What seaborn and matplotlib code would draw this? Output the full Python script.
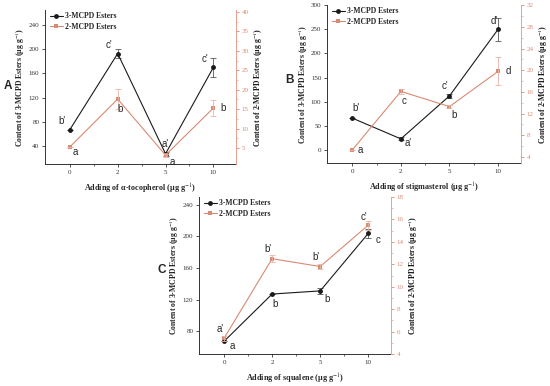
import numpy as np
import pandas as pd
import matplotlib.pyplot as plt
import seaborn as sns

# Data
doses = ["0", "2", "5", "10"]

a_3mcpd = [67, 193, 27, 170]
a_3mcpd_err = [0, 8, 3, 16]
a_2mcpd = [5.3, 17.6, 3.2, 15.3]
a_2mcpd_err = [0, 2.6, 0.4, 2.0]
a_lab3 = ["b'", "c'", "a'", "c'"]
a_lab2 = ["a", "b", "a", "b"]

b_3mcpd = [66, 23, 112, 250]
b_3mcpd_err = [0, 3, 4, 24]
b_2mcpd = [5.3, 16.1, 13.3, 19.8]
b_2mcpd_err = [0, 0.5, 0.3, 2.6]
b_lab3 = ["b'", "a'", "c'", "d'"]
b_lab2 = ["a", "c", "b", "d"]

c_3mcpd = [67, 127, 131, 204]
c_3mcpd_err = [0, 0, 4, 6]
c_2mcpd = [5.4, 12.5, 11.8, 15.5]
c_2mcpd_err = [0.2, 0.3, 0.2, 0.4]
c_lab3 = ["a", "b", "b", "c"]
c_lab2 = ["a'", "b'", "b'", "c'"]

BLACK = "#1a1a1a"
SALMON = "#d98a72"
SPINE2 = "#e9a292"

sns.set_theme(style="ticks")
plt.rcParams['font.family'] = ['Liberation Serif', 'DejaVu Serif']
plt.rcParams['mathtext.fontset'] = 'stix'


def panel(fig, rect, y3, e3, y2, e2, lab3, lab2, ylim3, yt3, ylim2, yt2,
          xlabel, letter, letter_pos, off3, off2):
    ax = fig.add_axes(rect)
    ax2 = ax.twinx()
    df = pd.DataFrame({"x": np.arange(len(doses)), "y3": y3, "y2": y2})

    sns.lineplot(data=df, x="x", y="y3", ax=ax, color=BLACK, lw=0.8,
                 marker="o", markersize=3.5, markeredgewidth=0,
                 label="3-MCPD Esters", legend=False, zorder=3)
    ax.errorbar(df["x"], df["y3"], yerr=e3, fmt="none", ecolor="#555555",
                elinewidth=0.6, capsize=2, capthick=0.6)
    sns.lineplot(data=df, x="x", y="y2", ax=ax2, color=SALMON, lw=0.8,
                 marker="s", markersize=3, markeredgewidth=0,
                 label="2-MCPD Esters", legend=False)
    ax2.errorbar(df["x"], df["y2"], yerr=e2, fmt="none", ecolor="#e8b3a5",
                 elinewidth=0.6, capsize=2, capthick=0.6)

    ax.set_xlim(-0.52, 3.47)
    ax.set_xticks(df["x"])
    ax.set_xticklabels(doses)
    ax.set_xticks(df["x"][:-1] + 0.5, minor=True)
    ax.set_ylim(*ylim3)
    ax.set_yticks(yt3)
    ax2.set_ylim(*ylim2)
    ax2.set_yticks(yt2)
    ax2.set_yticks(np.array(yt2[:-1]) + (yt2[1] - yt2[0]) / 2, minor=True)

    for a in (ax, ax2):
        a.spines["top"].set_visible(False)
    ax.spines["right"].set_visible(False)
    ax2.spines["left"].set_visible(False)
    ax2.spines["bottom"].set_visible(False)
    for s in ("left", "bottom"):
        ax.spines[s].set_linewidth(0.7)
        ax.spines[s].set_color("#333333")
    ax2.spines["right"].set_color(SPINE2)
    ax2.spines["right"].set_linewidth(0.7)

    ax.tick_params(axis="both", labelsize=5, length=2.5, width=0.6,
                   pad=1.5, colors="#333333")
    ax.tick_params(axis="x", which="minor", length=1.5, width=0.5)
    ax2.tick_params(axis="y", labelsize=5, length=2.5, width=0.6, pad=1.5,
                    colors=SALMON)
    ax2.tick_params(axis="y", which="minor", length=1.5, width=0.5,
                    colors=SPINE2)

    ax.set_xlabel(xlabel, fontsize=5.9, fontweight="bold", labelpad=5)
    ax.set_ylabel("Content of 3-MCPD Esters (μg g$^{-1}$)", fontsize=5.6,
                  fontweight="bold", labelpad=1)
    ax2.set_ylabel("Content of 2-MCPD Esters (μg g$^{-1}$)", fontsize=5.6,
                   fontweight="bold", labelpad=2, color=BLACK)

    for i in range(len(doses)):
        ax.annotate(lab3[i], (i, y3[i]), xytext=off3[i], textcoords="offset points",
                    fontsize=7, family="Liberation Sans", ha="center", va="center")
        ax2.annotate(lab2[i], (i, y2[i]), xytext=off2[i], textcoords="offset points",
                     fontsize=7, family="Liberation Sans", ha="center", va="center")

    h1, l1 = ax.get_legend_handles_labels()
    h2, l2 = ax2.get_legend_handles_labels()
    ax2.legend(h1 + h2, l1 + l2, loc="upper left", frameon=False,
               prop={"size": 5.5, "weight": "bold"}, handlelength=1.6,
               handletextpad=0.3, labelspacing=0.3, borderaxespad=0.3,
               bbox_to_anchor=(0.0, 1.02))

    fig.text(letter_pos[0], letter_pos[1], letter, fontsize=8.5, fontweight="bold",
             family="Liberation Sans", ha="center", va="center")
    return ax, ax2


fig = plt.figure(figsize=(5.5, 3.86), dpi=100)

panel(fig, [0.0818, 0.575, 0.347, 0.399], a_3mcpd, a_3mcpd_err, a_2mcpd,
      a_2mcpd_err, a_lab3, a_lab2, (10, 265), [40, 80, 120, 160, 200, 240],
      (0.9, 40.5), [5, 10, 15, 20, 25, 30, 35, 40],
      "Adding of α-tocopherol (μg g$^{-1}$)", "A", (8 / 550, 1 - 86 / 386),
      [(-6, 6), (-6, 6), (0, 7), (-6, 6)], [(4, -4), (2, -7), (5, -5), (7, 0)])

panel(fig, [0.5945, 0.5777, 0.3527, 0.409], b_3mcpd, b_3mcpd_err, b_2mcpd,
      b_2mcpd_err, b_lab3, b_lab2, (-27, 300), [0, 50, 100, 150, 200, 250, 300],
      (2.9, 32), [4, 8, 12, 16, 20, 24, 28, 32],
      "Adding of stigmasterol (μg g$^{-1}$)", "B", (290 / 550, 1 - 80 / 386),
      [(3, 7), (5, -3), (-3, 7), (-3, 6)], [(6, 0), (2, -7), (3, -6), (7, 0)])

panel(fig, [0.3618, 0.0829, 0.349, 0.4067], c_3mcpd, c_3mcpd_err, c_2mcpd,
      c_2mcpd_err, c_lab3, c_lab2, (51, 250), [80, 120, 160, 200, 240],
      (4, 18), [4, 6, 8, 10, 12, 14, 16, 18],
      "Adding of squalene (μg g$^{-1}$)", "C", (162 / 550, 1 - 270 / 386),
      [(6, -3), (2, -7), (5, -6), (7, -5)], [(-3, 7), (-3, 7), (-3, 7), (-3, 6)])

fig.savefig("out.png", dpi=100)
